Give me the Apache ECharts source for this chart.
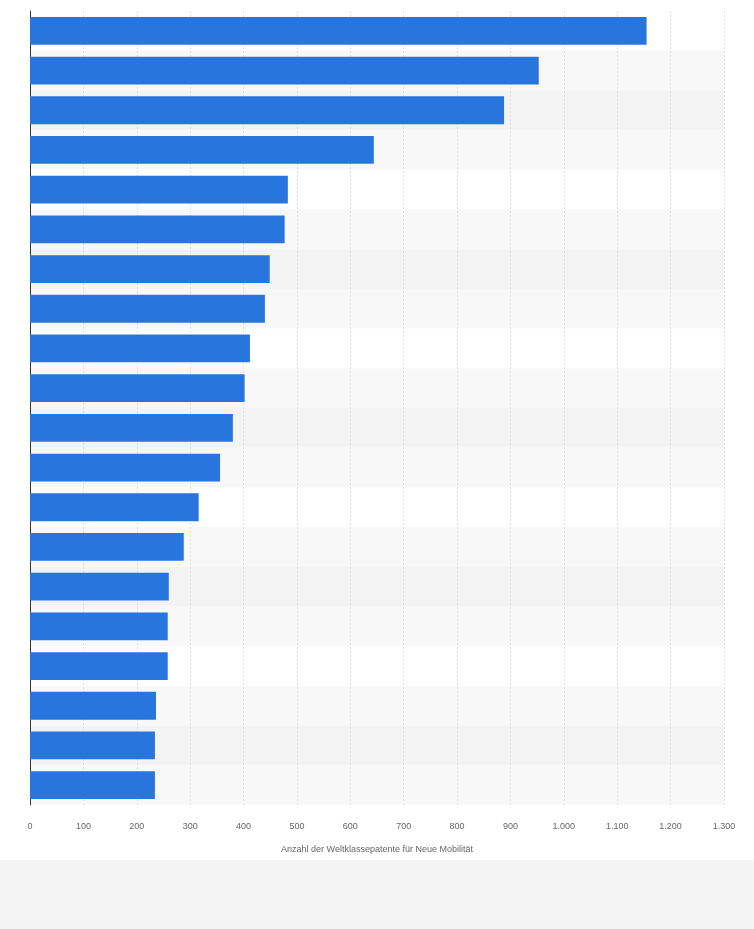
<!DOCTYPE html>
<html lang="de" style="height: 100%">
<head>
  <meta charset="utf-8">
</head>
<body style="height: 100%; margin: 0; background: #fff">
  <div id="container" style="width: 754px; height: 929px"></div>
  <script src="https://cdn.jsdelivr.net/npm/echarts@6/dist/echarts.min.js"></script>
  <script>
    // Kategorien sind im Original nicht beschriftet
    const categories = ['1', '2', '3', '4', '5', '6', '7', '8', '9', '10',
      '11', '12', '13', '14', '15', '16', '17', '18', '19', '20'];
    const patents = [1155, 953, 888, 644, 483, 477, 449, 440, 412, 402,
      380, 356, 316, 288, 260, 258, 258, 236, 234, 234];
    const xTicks = [0, 100, 200, 300, 400, 500, 600, 700, 800, 900, 1000, 1100, 1200, 1300];

    var myChart = echarts.init(document.getElementById('container'), null, { renderer: 'canvas' });

    var option = {
      animation: false,
      graphic: [{
        type: 'rect',
        z: -10,
        shape: { x: 0, y: 860, width: 754, height: 69 },
        style: { fill: '#f4f4f4' }
      }],
      grid: { left: 30, right: 30, top: 11, bottom: 124 },
      xAxis: {
        type: 'value',
        min: xTicks[0],
        max: xTicks[xTicks.length - 1],
        interval: 100,
        name: 'Anzahl der Weltklassepatente für Neue Mobilität',
        nameLocation: 'middle',
        nameGap: 40,
        nameTextStyle: { color: '#666', fontSize: 9, fontFamily: 'Arial, Liberation Sans' },
        axisLine: { show: false },
        axisTick: { show: false },
        axisLabel: {
          color: '#666', fontSize: 9, margin: 17, fontFamily: 'Arial, Liberation Sans',
          formatter: v => v.toString().replace(/\B(?=(\d{3})+(?!\d))/g, '.')
        },
        splitLine: { lineStyle: { color: '#dedede', type: [2, 2] } }
      },
      yAxis: {
        type: 'category',
        inverse: true,
        data: categories,
        axisLabel: { show: false },
        axisTick: { show: false },
        axisLine: { lineStyle: { color: '#333' } },
        splitArea: { show: true, areaStyle: { color: ['#ffffff', '#f8f8f8', '#f3f3f3', '#f8f8f8'] } }
      },
      series: [{
        type: 'bar',
        data: patents,
        barWidth: '70%',
        itemStyle: { color: '#2876dd' }
      }]
    };

    myChart.setOption(option);
  </script>
</body>
</html>
